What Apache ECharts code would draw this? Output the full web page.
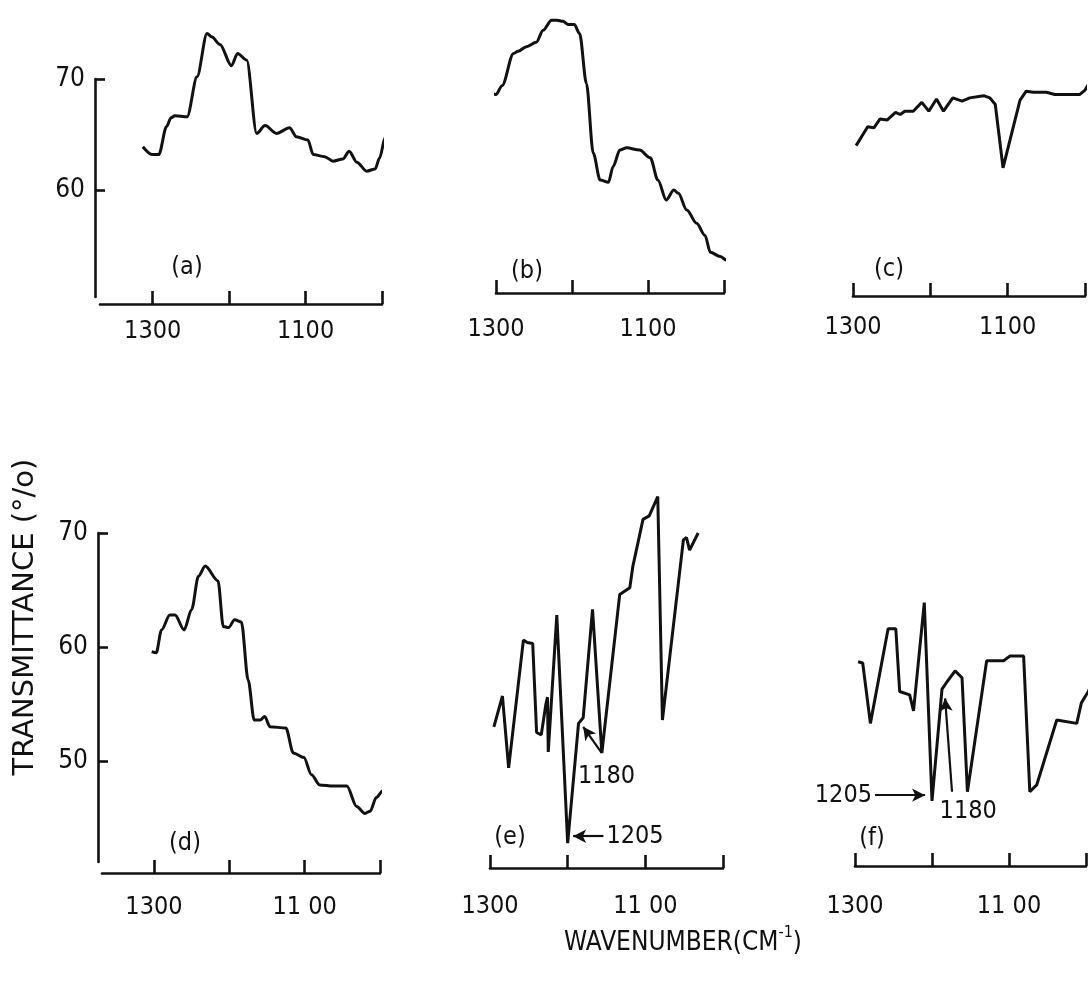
<!DOCTYPE html>
<html>
<head>
<meta charset="utf-8">
<script src="https://cdn.jsdelivr.net/npm/echarts@6/dist/echarts.min.js"></script>
<style>
  html, body { margin: 0; padding: 0; background: #fff; }
  #chart { width: 1089px; height: 994px; }
</style>
</head>
<body>
<div id="chart"></div>
<script>
// IR spectra, [wavenumber (cm-1), transmittance (%)]
const specA = [[1313,63.9],[1301,63.2],[1292,63.2],[1282,65.7],[1276,66.5],[1271,66.7],[1255,66.6],[1242,70.2],[1229,74.1],[1223,73.8],[1212,73.1],[1197,71.2],[1189,72.3],[1177,71.7],[1164,65.1],[1153,65.8],[1138,65.1],[1121,65.6],[1112,64.8],[1097,64.5],[1090,63.2],[1075,63.0],[1064,62.6],[1051,62.8],[1043,63.5],[1033,62.5],[1020,61.7],[1009,61.9],[1003,62.9],[996,64.7],[990,65.3]]
const specB = [[1307,68.8],[1300,68.6],[1292,69.4],[1277,72.3],[1271,72.5],[1260,72.9],[1247,73.3],[1238,74.4],[1227,75.3],[1220,75.3],[1212,75.2],[1205,74.9],[1197,74.9],[1190,74.1],[1181,69.6],[1172,63.3],[1163,60.9],[1152,60.7],[1146,62.1],[1137,63.6],[1128,63.8],[1111,63.6],[1097,62.9],[1087,60.9],[1076,59.1],[1066,60.0],[1060,59.7],[1049,58.2],[1036,57.0],[1025,55.9],[1018,54.4],[1005,54.0],[997,53.7],[986,52.3]]
const specC = [[1296,64.0],[1281,65.7],[1273,65.6],[1265,66.4],[1256,66.3],[1245,67.0],[1239,66.8],[1233,67.1],[1222,67.1],[1211,67.9],[1202,67.1],[1192,68.2],[1183,67.1],[1171,68.3],[1159,68.0],[1149,68.3],[1131,68.5],[1123,68.3],[1116,67.7],[1106,62.0],[1097,64.5],[1084,68.1],[1076,68.9],[1067,68.8],[1050,68.8],[1039,68.6],[1024,68.6],[1007,68.6],[1000,69.0],[994,69.7],[988,70.4]]
const specD = [[1303,59.6],[1297,59.5],[1290,61.5],[1279,62.8],[1272,62.8],[1260,61.5],[1250,63.3],[1241,66.2],[1232,67.1],[1215,65.8],[1208,61.8],[1201,61.7],[1193,62.4],[1184,62.2],[1175,57.1],[1167,53.6],[1159,53.6],[1153,53.9],[1146,53.0],[1125,52.9],[1115,50.7],[1101,50.3],[1091,48.8],[1080,47.9],[1062,47.8],[1044,47.8],[1031,46.0],[1020,45.4],[1013,45.6],[1005,46.8],[996,47.4],[980,47.5]]
const specE = [[1295,53.0],[1284,55.7],[1276,49.4],[1257,60.6],[1252,60.4],[1245,60.3],[1240,52.5],[1234,52.3],[1228,55.0],[1226,55.6],[1225,50.8],[1214,62.8],[1200,42.8],[1186,53.3],[1180,53.8],[1168,63.3],[1156,50.7],[1133,64.6],[1120,65.2],[1116,67.1],[1103,71.2],[1095,71.5],[1084,73.2],[1078,53.6],[1051,69.4],[1047,69.6],[1043,68.5],[1032,70.0]]
const specF = [[1296,58.7],[1290,58.6],[1280,53.3],[1257,61.6],[1247,61.6],[1242,56.1],[1229,55.8],[1224,54.4],[1210,63.9],[1200,46.5],[1187,56.3],[1182,56.8],[1170,57.9],[1161,57.3],[1154,47.3],[1129,58.8],[1107,58.8],[1099,59.2],[1081,59.2],[1073,47.3],[1064,47.9],[1038,53.6],[1012,53.3],[1006,55.1],[997,56.1],[990,57.3]]

// peak call-outs: [label, text centre (null = at arrow tail), arrow tail, arrow head]
const notesE = [['1180',[1150,48.6],[1156,50.7],[1180,53.0]], ['1205',null,[1154,43.4],[1193,43.4]]]
const notesF = [['1205',null,[1274,47.0],[1209,47.0]], ['1180',[1153,45.6],[1174,47.3],[1183,55.5]]]

const xTicks = [1300, 1200, 1100, 1000]
const xLabels = [1300, 1100]
const yTicksTop = [60, 70]
const yTicksBottom = [50, 60, 70]

const ink = '#111'
const font = '"DejaVu Sans Condensed", "DejaVu Sans", sans-serif'

const panels = [
  { name: '(a)', data: specA, left: 100, right: 382, top: 79, bottom: 297, leftWn: 1369, pp10: 111, yTicks: yTicksTop, yOff: 5, xOff: 7, smooth: 0.3, margin: 15, tag: [187, 267], notes: [] },
  { name: '(b)', data: specB, left: 496, right: 724, top: 79, bottom: 293, leftWn: 1300, pp10: 111, yTicks: null, xOff: 0, smooth: 0.3, margin: 24, tag: [527, 271], notes: [] },
  { name: '(c)', data: specC, left: 853, right: 1085, top: 79, bottom: 296, leftWn: 1300, pp10: 111, yTicks: null, xOff: 0, smooth: false, margin: 19, tag: [889, 269], notes: [] },
  { name: '(d)', data: specD, left: 102, right: 380, top: 533, bottom: 862, leftWn: 1369, pp10: 114, yTicks: yTicksBottom, yOff: 4, xOff: 11, smooth: 0.3, margin: 22, tag: [185, 843], notes: [] },
  { name: '(e)', data: specE, left: 490, right: 723, top: 533, bottom: 868, leftWn: 1300, pp10: 114, yTicks: null, xOff: 0, smooth: false, margin: 26, tag: [510, 837], notes: notesE },
  { name: '(f)', data: specF, left: 855, right: 1086, top: 533, bottom: 866, leftWn: 1300, pp10: 114, yTicks: null, xOff: 0, smooth: false, margin: 28, tag: [872, 838], notes: notesF }
]

const grid = []
const xAxis = []
const yAxis = []
const series = []

panels.forEach((p, i) => {
  const bottomRow = i >= 3
  grid.push({ left: p.left, top: p.top, width: p.right - p.left, height: p.bottom - p.top })
  xAxis.push({
    gridIndex: i,
    type: 'value',
    inverse: true,
    min: 1000,
    max: p.leftWn,
    offset: p.xOff,
    axisLine: { lineStyle: { color: ink, width: 2.6 } },
    axisTick: { inside: true, length: 13, customValues: xTicks, lineStyle: { color: ink, width: 2.6 } },
    axisLabel: {
      customValues: xLabels,
      margin: p.margin,
      color: ink,
      fontSize: 25,
      fontFamily: font,
      formatter: (v) => (bottomRow && v === 1100 ? '11 00' : String(v))
    },
    splitLine: { show: false }
  })
  yAxis.push({
    gridIndex: i,
    type: 'value',
    min: 70 - ((p.bottom - p.top) / p.pp10) * 10,
    max: 70,
    show: !!p.yTicks,
    offset: p.yOff || 0,
    axisLine: { show: true, lineStyle: { color: ink, width: 2.6 } },
    axisTick: { show: true, inside: true, length: 10, customValues: p.yTicks || [], lineStyle: { color: ink, width: 2.6 } },
    axisLabel: { customValues: p.yTicks || [], margin: 10, color: ink, fontSize: 26, fontFamily: font },
    splitLine: { show: false }
  })

  const s = {
    type: 'line',
    xAxisIndex: i,
    yAxisIndex: i,
    data: p.data,
    clip: false,
    showSymbol: false,
    smooth: p.smooth,
    smoothMonotone: 'x',
    lineStyle: { color: ink, width: 3 },
    silent: true
  }
  if (p.notes.length) {
    s.markLine = {
      silent: true,
      symbol: ['none', 'arrow'],
      symbolSize: [10, 13],
      lineStyle: { color: ink, width: 2.2, type: 'solid' },
      data: p.notes.map((n) => [
        {
          coord: n[2],
          label: n[1] ? { show: false } : { show: true, position: 'start', distance: 3, formatter: n[0], color: ink, fontSize: 25, fontFamily: font }
        },
        { coord: n[3] }
      ])
    }
    s.markPoint = {
      silent: true,
      symbol: 'circle',
      symbolSize: 0,
      label: { show: true, position: 'inside', color: ink, fontSize: 25, fontFamily: font, formatter: (d) => d.name },
      data: p.notes.filter((n) => n[1]).map((n) => ({ name: n[0], coord: n[1] }))
    }
  }
  series.push(s)
})

const textStyle = { fill: ink, font: '25px ' + font, align: 'center', verticalAlign: 'middle' }

const graphic = panels.map((p) => ({
  type: 'text',
  x: p.tag[0],
  y: p.tag[1],
  style: Object.assign({ text: p.name }, textStyle)
}))

graphic.push({
  type: 'text',
  x: 25,
  y: 617,
  rotation: Math.PI / 2,
  style: Object.assign({}, textStyle, { text: 'TRANSMITTANCE (°/o)', font: '29px "DejaVu Sans", sans-serif' })
})

graphic.push({
  type: 'text',
  x: 683,
  y: 943,
  style: {
    text: 'WAVENUMBER(CM{sup|-1})',
    fill: ink,
    font: '26px ' + font,
    align: 'center',
    verticalAlign: 'middle',
    rich: { sup: { fontSize: 16, fontFamily: font, fill: ink, padding: [0, 0, 20, 0] } }
  }
})

const chart = echarts.init(document.getElementById('chart'))
chart.setOption({
  animation: false,
  backgroundColor: '#fff',
  grid,
  xAxis,
  yAxis,
  series,
  graphic
})
window.addEventListener('resize', () => chart.resize())
</script>
</body>
</html>
